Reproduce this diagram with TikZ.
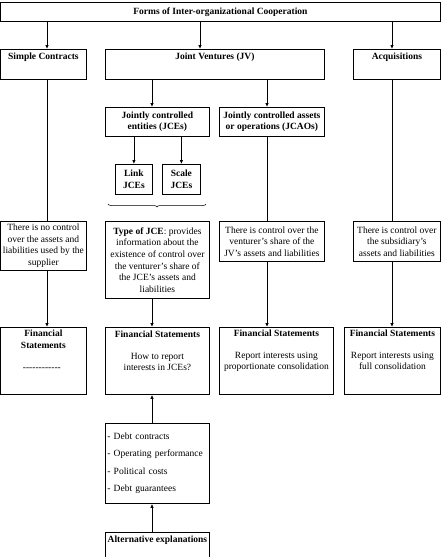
\documentclass[tikz,border=0pt]{standalone}
\usepackage{fontspec}
\setmainfont{Liberation Serif}
\usetikzlibrary{positioning, arrows.meta, decorations.pathreplacing}

\begin{document}
\begin{tikzpicture}[
        x=1pt, y=-1pt,
        font=\fontsize{9.5}{11.6}\selectfont,
        box/.style = {draw, line width=0.8pt, anchor=north west, inner xsep=1pt, inner ysep=2pt, align=center},
        head/.style = {font=\fontsize{9.5}{11.6}\selectfont\bfseries, align=center, inner sep=0pt},
        arr/.style = {-{Latex[length=4pt,width=3.5pt]}, line width=0.8pt},
        conn/.style = {line width=0.8pt},
    ]
    \useasboundingbox (0,0) rectangle (447,557);

    % Columns of the vertical connectors
    \coordinate (colA) at (47,0);
    \coordinate (colB) at (152,0);
    \coordinate (colC) at (267,0);
    \coordinate (colD) at (392,0);
    \coordinate (colE) at (200,0);

    % Top level
    \node[box, minimum width=440pt, minimum height=19pt] (forms) at (0,2) {\bfseries Forms of Inter-organizational Cooperation};

    % Second level
    \node[box, minimum width=86pt, minimum height=30pt] (simple) at (0,49) {};
    \node[head, below=4pt of simple.north] (simpletxt) {Simple Contracts};
    \node[box, minimum width=219pt, minimum height=30pt] (jv) at (105,49) {};
    \node[head, below=4pt of jv.north] (jvtxt) {Joint Ventures (JV)};
    \node[box, minimum width=87pt, minimum height=30pt] (acq) at (353,49) {};
    \node[head, below=4pt of acq.north] (acqtxt) {Acquisitions};

    % Kinds of joint ventures
    \node[box, minimum width=104pt, minimum height=29pt, font=\fontsize{9.5}{11.6}\selectfont\bfseries] (jce) at (105,107) {Jointly controlled\\entities (JCEs)};
    \node[box, minimum width=105pt, minimum height=29pt, font=\fontsize{9.5}{11.6}\selectfont\bfseries] (jcao) at (219,107) {Jointly controlled assets\\or operations (JCAOs)};
    \node[box, minimum width=37pt, minimum height=30pt, font=\fontsize{9.5}{11.6}\selectfont\bfseries] (linkjce) at (115,164) {Link\\JCEs};
    \node[box, minimum width=38pt, minimum height=30pt, font=\fontsize{9.5}{11.6}\selectfont\bfseries] (scalejce) at (162,164) {Scale\\JCEs};

    % Brace under the two JCE types
    \coordinate (braceL) at (108,204);
    \coordinate (braceR) at (206,204);
    \draw[decorate, decoration={brace, mirror, amplitude=3pt}, line width=0.5pt] (braceL) -- (braceR);

    % Control
    \node[box, minimum width=86pt, minimum height=49pt] (descA) at (0,221) {There is no control\\over the assets and\\liabilities used by the\\supplier};
    \node[box, minimum width=104pt, minimum height=77pt] (descB) at (105,221) {\textbf{Type of JCE}: provides\\information about the\\existence of control over\\the venturer's share of\\the JCE's assets and\\liabilities};
    \node[box, minimum width=105pt, minimum height=40pt] (descC) at (219,221) {There is control over the\\venturer's share of the\\JV's assets and liabilities};
    \node[box, minimum width=87pt, minimum height=40pt] (descD) at (353,221) {There is control over\\the subsidiary's\\assets and liabilities};

    % Financial statements
    \node[box, minimum width=86pt, minimum height=67pt] (fsA) at (0,327) {};
    \node[below=3pt of fsA.north, align=center, inner sep=0pt] (fsAtxt) {\textbf{Financial}\\\textbf{Statements}\\[11pt]\hbox to 41pt{\leaders\hbox{-}\hfill}};
    \node[box, minimum width=104pt, minimum height=67pt] (fsB) at (105,327) {};
    \node[below=4pt of fsB.north, align=center, inner sep=0pt] (fsBtxt) {\textbf{Financial Statements}\\[10pt]How to report\\interests in JCEs?};
    \node[box, minimum width=114pt, minimum height=67pt] (fsC) at (219,327) {};
    \node[below=3pt of fsC.north, align=center, inner sep=0pt] (fsCtxt) {\textbf{Financial Statements}\\[10pt]Report interests using\\proportionate consolidation};
    \node[box, minimum width=96pt, minimum height=67pt] (fsD) at (344,327) {};
    \node[below=3pt of fsD.north, align=center, inner sep=0pt] (fsDtxt) {\textbf{Financial Statements}\\[10pt]Report interests using\\full consolidation};

    % Explanations
    \node[box, minimum width=104pt, minimum height=80pt, text width=100pt, align=left] (list) at (105,423) {- Debt contracts\\[5.8pt]- Operating performance\\[5.8pt]- Political costs\\[5.8pt]- Debt guarantees};
    \node[box, minimum width=104pt, minimum height=40pt] (alt) at (105,532) {};
    \node[head, below=4pt of alt.north] (alttxt) {Alternative explanations};

    % Connectors
    \draw[arr] (forms.south -| colA) -- (simple.north -| colA);
    \draw[arr] (forms.south -| colE) -- (jv.north -| colE);
    \draw[arr] (forms.south -| colD) -- (acq.north -| colD);
    \draw[arr] (jv.south -| colB) -- (jce.north -| colB);
    \draw[arr] (jv.south -| colC) -- (jcao.north -| colC);
    \draw[arr] (jce.south -| linkjce.north) -- (linkjce.north);
    \draw[arr] (jce.south -| scalejce.north) -- (scalejce.north);
    \draw[conn] (simple.south -| colA) -- (descA.north -| colA);
    \draw[conn] (jcao.south -| colC) -- (descC.north -| colC);
    \draw[conn] (acq.south -| colD) -- (descD.north -| colD);
    \draw[arr] (descA.south -| colA) -- (fsA.north -| colA);
    \draw[arr] (descB.south -| colB) -- (fsB.north -| colB);
    \draw[arr] (descC.south -| colC) -- (fsC.north -| colC);
    \draw[arr] (descD.south -| colD) -- (fsD.north -| colD);
    \draw[arr] (list.north -| colB) -- (fsB.south -| colB);
    \draw[arr] (alt.north -| colB) -- (list.south -| colB);
\end{tikzpicture}
\end{document}
